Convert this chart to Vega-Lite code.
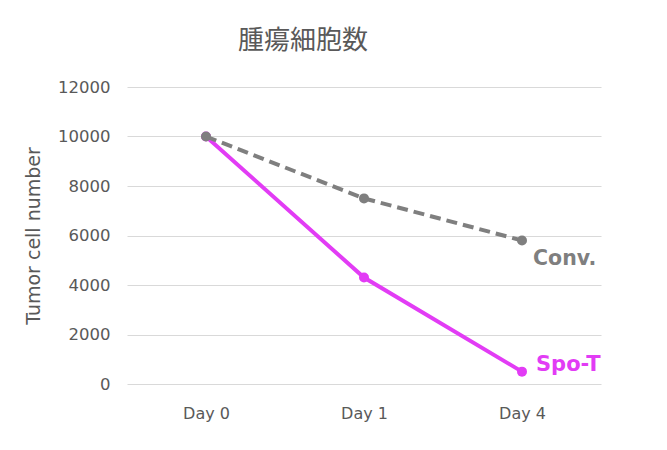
{
  "$schema": "https://vega.github.io/schema/vega-lite/v6.json",
  "width": 474,
  "height": 297,
  "autosize": {"type": "none"},
  "padding": {"left": 127, "top": 87, "right": 66, "bottom": 66},
  "background": "white",
  "title": {
    "text": "腫瘍細胞数",
    "font": "Noto Sans CJK JP",
    "fontSize": 26,
    "fontWeight": "normal",
    "color": "#595959",
    "anchor": "middle",
    "dx": -61,
    "offset": 25
  },
  "config": {
    "view": {"stroke": null},
    "axis": {"labelFont": "DejaVu Sans", "titleFont": "DejaVu Sans"}
  },
  "data": {
    "values": [
      {"day": "Day 0", "series": "Spo-T", "value": 10000},
      {"day": "Day 1", "series": "Spo-T", "value": 4300},
      {"day": "Day 4", "series": "Spo-T", "value": 500},
      {"day": "Day 0", "series": "Conv.", "value": 10000},
      {"day": "Day 1", "series": "Conv.", "value": 7500},
      {"day": "Day 4", "series": "Conv.", "value": 5800}
    ]
  },
  "encoding": {
    "x": {
      "field": "day",
      "type": "ordinal",
      "sort": ["Day 0", "Day 1", "Day 4"],
      "scale": {"type": "point", "padding": 0.5},
      "axis": {
        "title": null,
        "labelAngle": 0,
        "domain": false,
        "ticks": false,
        "labelPadding": 21,
        "labelFontSize": 16,
        "labelColor": "#595959"
      }
    },
    "y": {
      "field": "value",
      "type": "quantitative",
      "scale": {"domain": [0, 12000], "nice": false},
      "axis": {
        "title": "Tumor cell number",
        "titleFontSize": 19,
        "titleFontWeight": "normal",
        "titleColor": "#595959",
        "titlePadding": 14,
        "values": [0, 2000, 4000, 6000, 8000, 10000, 12000],
        "format": "d",
        "domain": false,
        "ticks": false,
        "labelPadding": 17,
        "labelFontSize": 16.5,
        "labelColor": "#595959",
        "gridColor": "#d9d9d9",
        "gridWidth": 1
      }
    }
  },
  "layer": [
    {
      "transform": [{"filter": "datum.series === 'Spo-T'"}],
      "mark": {"type": "line", "color": "#E23CF5", "strokeWidth": 4},
      "encoding": {}
    },
    {
      "transform": [{"filter": "datum.series === 'Spo-T'"}],
      "mark": {"type": "circle", "color": "#E23CF5", "size": 100, "opacity": 1}
    },
    {
      "transform": [{"filter": "datum.series === 'Conv.'"}],
      "mark": {"type": "line", "color": "#7F7F7F", "strokeWidth": 4, "strokeDash": [11, 6]},
      "encoding": {}
    },
    {
      "transform": [{"filter": "datum.series === 'Conv.'"}],
      "mark": {"type": "circle", "color": "#7F7F7F", "size": 100, "opacity": 1}
    },
    {
      "transform": [{"filter": "datum.series === 'Conv.' && datum.day === 'Day 4'"}],
      "mark": {"type": "text", "align": "left", "baseline": "middle", "dx": 11, "dy": 19, "font": "DejaVu Sans", "fontSize": 20.5, "fontWeight": "bold", "color": "#7F7F7F"},
      "encoding": {"text": {"field": "series"}}
    },
    {
      "transform": [{"filter": "datum.series === 'Spo-T' && datum.day === 'Day 4'"}],
      "mark": {"type": "text", "align": "left", "baseline": "middle", "dx": 14, "dy": -7, "font": "DejaVu Sans", "fontSize": 21, "fontWeight": "bold", "color": "#E23CF5"},
      "encoding": {"text": {"field": "series"}}
    }
  ]
}
